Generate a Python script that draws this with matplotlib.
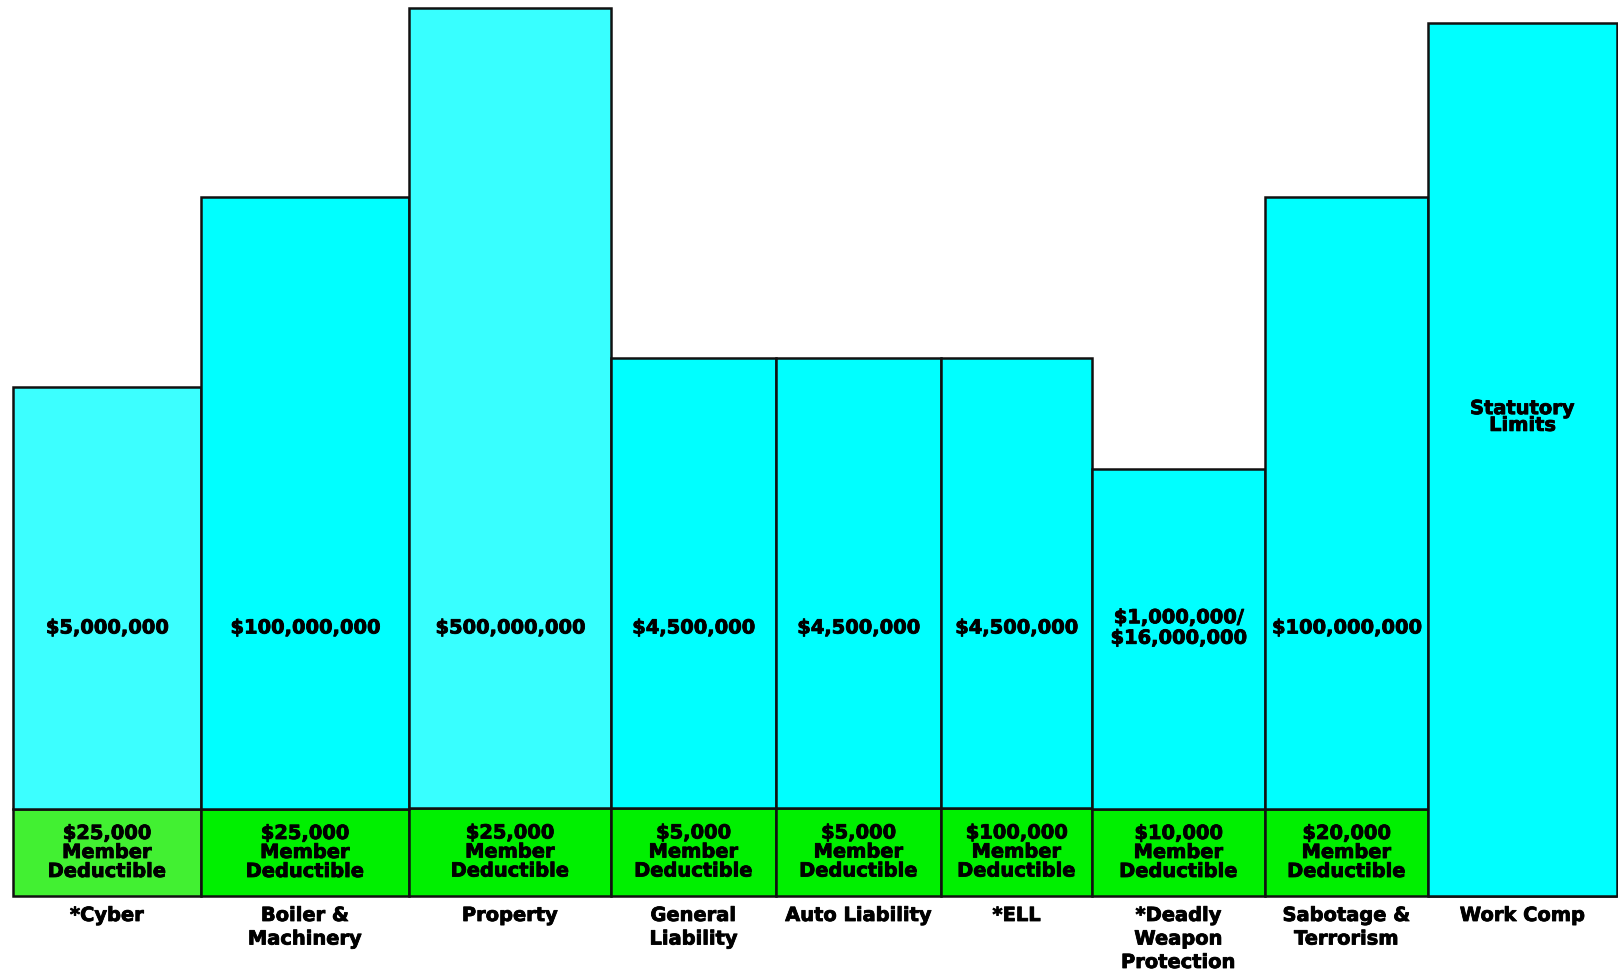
import matplotlib.pyplot as plt
import matplotlib.patheffects as pe
import numpy as np

# Coverage categories (left to right)
categories = ["*Cyber", "Boiler &\nMachinery", "Property", "General\nLiability",
              "Auto Liability", "*ELL", "*Deadly\nWeapon\nProtection",
              "Sabotage &\nTerrorism", "Work Comp"]
limit_labels = ["$5,000,000", "$100,000,000", "$500,000,000", "$4,500,000",
                "$4,500,000", "$4,500,000", "$1,000,000/\n$16,000,000",
                "$100,000,000", "Statutory\nLimits"]
deductible_labels = ["$25,000", "$25,000", "$25,000", "$5,000", "$5,000",
                     "$100,000", "$10,000", "$20,000", None]

# Visual sizes (the chart is not to scale)
bar_widths = [188, 208, 202, 165, 165, 151, 173, 163, 189]
limit_tops = [509, 699, 888, 538, 538, 538, 427, 699, 873]
deductible_heights = [87, 87, 88, 88, 88, 88, 87, 87, 0]

cyan = ["#3cffff", "#00ffff", "#38ffff", "#00ffff", "#00ffff", "#00ffff",
        "#00ffff", "#00ffff", "#00ffff"]
green = ["#42f032", "#00f000", "#00f000", "#00f000", "#00f000", "#00f000",
         "#00f000", "#00f000", "#00f000"]

lefts = 13 + np.concatenate([[0], np.cumsum(bar_widths)[:-1]])
centers = lefts + np.array(bar_widths) / 2

fig = plt.figure(figsize=(16.18, 9.75), dpi=100)
ax = fig.add_axes([0, 0, 1, 1])
ax.set_xlim(0, 1618)
ax.set_ylim(-79, 896)
ax.axis("off")

# heavier look, closer to the Arial Black of the original
heavy = [pe.withStroke(linewidth=0.6, foreground="black")]
font = dict(family="DejaVu Sans", fontweight="bold", color="black",
            fontsize=14, path_effects=heavy)

# Deductible (green) bars at the bottom
ax.bar(lefts, deductible_heights, width=bar_widths, align="edge",
       color=green, edgecolor="#111111", linewidth=1.8)

# Limit (cyan) bars stacked on top; Work Comp has no deductible
ax.bar(lefts, np.array(limit_tops) - np.array(deductible_heights),
       bottom=deductible_heights, width=bar_widths, align="edge",
       color=cyan, edgecolor="#111111", linewidth=1.8)

for i, cx in enumerate(centers):
    if deductible_labels[i] is not None:
        ax.text(cx, 268, limit_labels[i], ha="center", va="center",
                linespacing=1.1, **font)
        ax.text(cx, deductible_heights[i] / 2,
                deductible_labels[i] + "\nMember\nDeductible",
                ha="center", va="center", linespacing=1.0, **font)
    else:
        ax.text(cx, 479, limit_labels[i], ha="center", va="center",
                linespacing=0.85, **font)
    ax.text(cx, -10, categories[i], ha="center", va="top",
            linespacing=1.3, **font)

fig.savefig("out.png", dpi=100)
